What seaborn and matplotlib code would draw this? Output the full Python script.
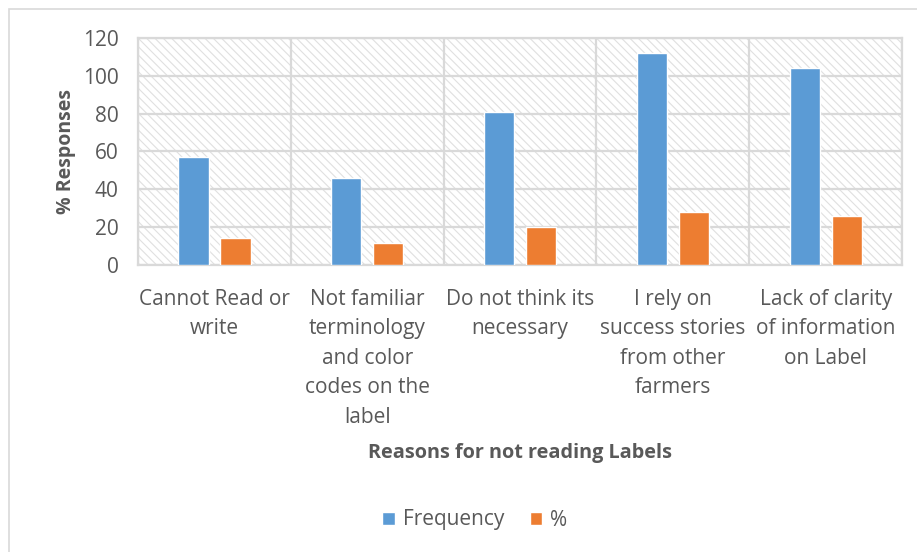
import matplotlib
matplotlib.use("Agg")
import matplotlib.pyplot as plt
from matplotlib.patches import Rectangle
import seaborn as sns
import pandas as pd

categories = [
    "Cannot Read or\nwrite",
    "Not familiar\nterminology\nand color\ncodes on the\nlabel",
    "Do not think its\nnecessary",
    "I rely on\nsuccess stories\nfrom other\nfarmers",
    "Lack of clarity\nof information\non Label",
]
frequency = [57, 46, 81, 112, 104]
percent = [14.25, 11.5, 20.25, 28, 26]
series_names = ["Frequency", "%"]
y_ticks = [0, 20, 40, 60, 80, 100, 120]

df = pd.DataFrame({
    "Reason": categories * 2,
    "Value": frequency + percent,
    "Series": [series_names[0]] * len(categories) + [series_names[1]] * len(categories),
})

sns.set_theme(style="white")
plt.rcParams["font.family"] = ["Open Sans", "DejaVu Sans"]
text_color = "#595959"
grid_color = "#d9d9d9"
plt.rcParams["hatch.color"] = "#e0e0e0"

fig = plt.figure(figsize=(9.17, 5.52), dpi=100)
ax = fig.add_axes([0.1505, 0.5199, 0.8332, 0.4113])

# hatched plot-area background
bg = Rectangle((0, 0), 1, 1, transform=ax.transAxes, facecolor="white",
               edgecolor="#e0e0e0", hatch="\\\\\\\\", linewidth=0, zorder=0)
ax.add_patch(bg)
if hasattr(bg, "set_hatch_linewidth"):
    bg.set_hatch_linewidth(0.8)

sns.barplot(data=df, x="Reason", y="Value", hue="Series", order=categories,
            hue_order=series_names, palette=["#5B9BD5", "#ED7D31"],
            width=0.55, gap=0.28, saturation=1, ax=ax, zorder=3,
            legend=False)

ax.set_xlim(-0.5, len(categories) - 0.5)
ax.set_ylim(0, 120)
ax.set_yticks(y_ticks)
ax.set_xticks(range(len(categories)))
ax.set_xticklabels(categories, linespacing=1.53)
ax.set_xticks([i + 0.5 for i in range(-1, len(categories))], minor=True)
ax.grid(True, axis="y", which="major", color=grid_color, linewidth=1.6, zorder=1)
ax.grid(True, axis="x", which="minor", color=grid_color, linewidth=1.6, zorder=1)
ax.grid(False, axis="x", which="major")
ax.set_axisbelow(True)
for s in ax.spines.values():
    s.set_color(grid_color)
    s.set_linewidth(1.6)

ax.tick_params(axis="both", which="both", length=0, colors=text_color, labelsize=15)
ax.tick_params(axis="y", pad=14)
ax.tick_params(axis="x", pad=17)
ax.set_ylabel("% Responses", fontsize=14, fontweight="bold", color=text_color, labelpad=5)
ax.set_xlabel("Reasons for not reading Labels", fontsize=14.3, fontweight="bold",
              color=text_color, labelpad=11)

handles = [Rectangle((0, 0), 1, 1, facecolor=c) for c in ["#5B9BD5", "#ED7D31"]]
fig.legend(handles, series_names, loc="center", bbox_to_anchor=(475 / 917, 1 - 520 / 552),
           ncol=2, frameon=False, fontsize=15, labelcolor=text_color,
           handlelength=0.6, handleheight=0.6, handletextpad=0.4, columnspacing=1.2)

# outer chart border
fig.patches.append(Rectangle((9 / 917, -0.1), 1.2, 1 - 9 / 552 + 0.1, transform=fig.transFigure,
                             facecolor="none", edgecolor=grid_color, linewidth=1.2))

fig.savefig("out.png", dpi=100)
